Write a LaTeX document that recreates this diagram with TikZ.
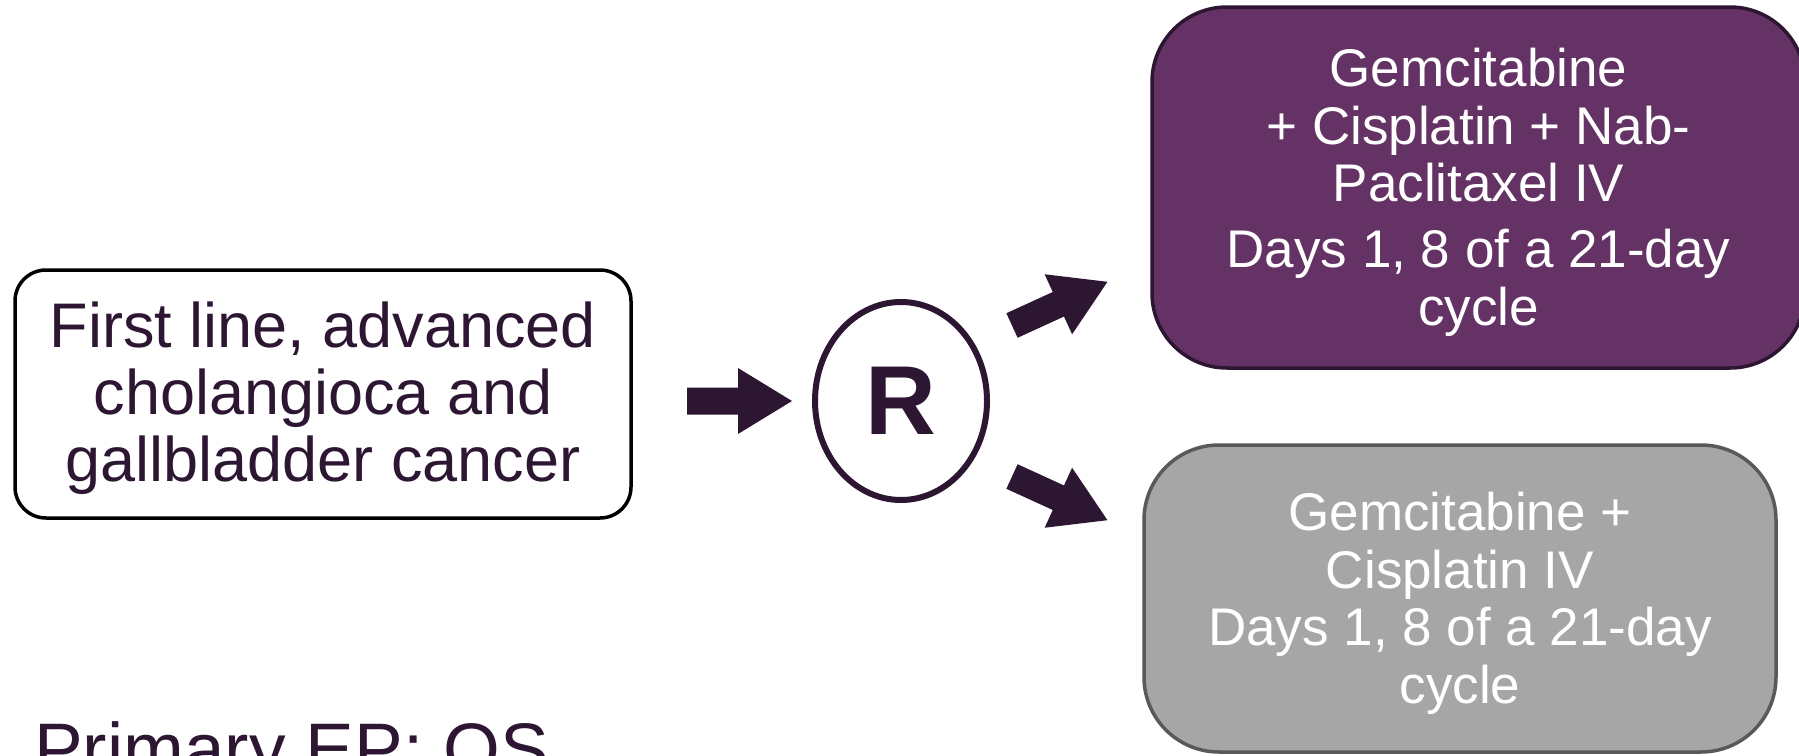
\documentclass[tikz,border=0pt]{standalone}
\usepackage{fontspec}
\setmainfont{Liberation Sans}
\usetikzlibrary{shapes.geometric}

\definecolor{ink}{HTML}{2D1632}
\definecolor{plum}{HTML}{643264}
\definecolor{boxgray}{HTML}{A6A6A6}
\definecolor{edgegray}{HTML}{595959}

\tikzset{
  % solid block arrow, tail centre at the origin, pointing along +x
  blockarrow/.pic={
    \fill[ink] (0,-13.5) -- (51,-13.5) -- (51,-33) -- (105,0)
               -- (51,33) -- (51,13.5) -- (0,13.5) -- cycle;
  },
  startbox/.style={draw=black, line width=3.5pt, rounded corners=31pt,
    fill=white, minimum width=616pt, minimum height=248pt, inner sep=0pt},
  starttext/.style={align=center, text=ink, inner sep=0pt,
    font=\fontsize{63pt}{67pt}\selectfont},
  randnode/.style={ellipse, draw=ink, line width=6pt, fill=white,
    minimum width=172pt, minimum height=198pt, inner sep=0pt,
    text=ink, font=\fontsize{98pt}{100pt}\selectfont\bfseries},
  purplebox/.style={draw=ink, line width=3.5pt, rounded corners=75pt,
    fill=plum, minimum width=653pt, minimum height=361pt, inner sep=0pt},
  graybox/.style={draw=edgegray, line width=3.5pt, rounded corners=75pt,
    fill=boxgray, minimum width=632pt, minimum height=307pt, inner sep=0pt},
  armtext/.style={align=center, text=white, inner sep=0pt,
    font=\fontsize{53pt}{57.5pt}\selectfont},
  eptext/.style={anchor=base west, text=ink, inner sep=0pt,
    font=\fontsize{73pt}{80pt}\selectfont},
}

\begin{document}
\begin{tikzpicture}[x=1pt,y=-1pt]
  \useasboundingbox (0,0) rectangle (1799,755);
  \clip (0,0) rectangle (1799,755);

  % population
  \node[startbox] (start) at (323,394) {};
  \node[starttext] (starttxt) at ([yshift=-4pt]start.center)
    {First line, advanced\\cholangioca and\\gallbladder cancer};

  % randomisation
  \pic (toR) at (687,401) {blockarrow};
  \node[randnode] (rand) at (901,401) {R};

  % the two treatment arms
  \pic[rotate=24.6] (toA) at (1012,325.5) {blockarrow};
  \pic[rotate=-24.6] (toB) at (1012,476.5) {blockarrow};

  \node[purplebox] (armA) at (1478.5,187.5) {};
  \node[armtext] (armAtxt) at ([yshift=-5pt]armA.center)
    {Gemcitabine\\+ Cisplatin + Nab-\\Paclitaxel IV\\[8.5pt]Days 1, 8 of a 21-day\\cycle};

  \node[graybox] (armB) at (1460,598.5) {};
  \node[armtext] (armBtxt) at ([yshift=-5pt]armB.center)
    {Gemcitabine +\\Cisplatin IV\\Days 1, 8 of a 21-day\\cycle};

  % endpoint
  \node[eptext] (ep) at (34,774) {Primary EP: OS};
\end{tikzpicture}
\end{document}
